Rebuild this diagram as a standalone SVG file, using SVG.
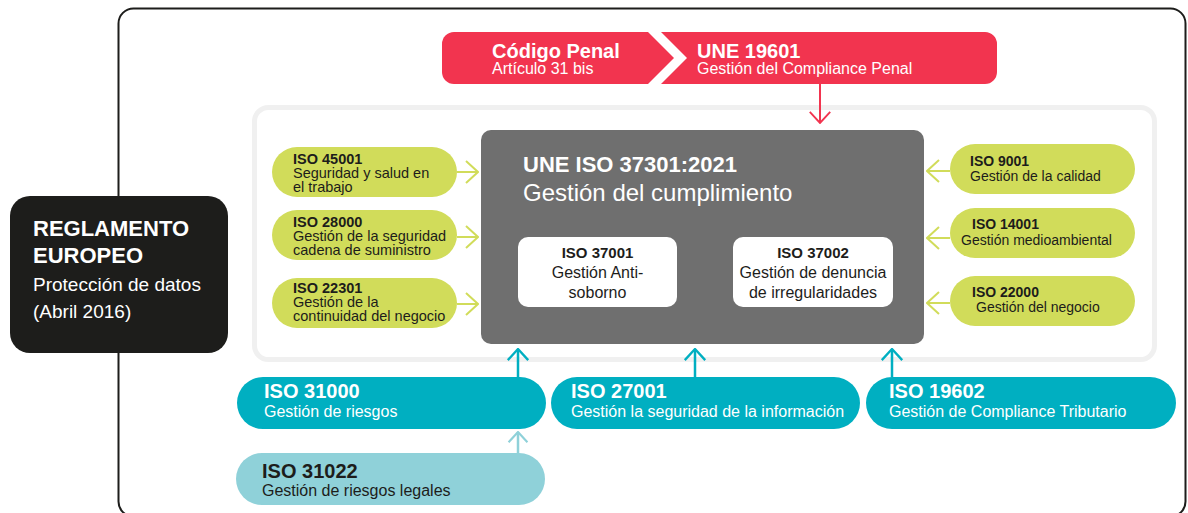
<svg xmlns="http://www.w3.org/2000/svg" width="1188" height="513" viewBox="0 0 1188 513">
<defs>
<style>
text{font-family:"Liberation Sans",Arial,sans-serif;}
.b{font-weight:bold;}
.w{fill:#ffffff;}
.k{fill:#1d1d1b;}
.green{fill:#d1dc5a;}
.teal{fill:#00afc1;}
.lteal{fill:#8fd1d9;}
.red{fill:#f2344f;}
.lg{stroke:#d1dc5a;stroke-width:2;fill:none;}
.lt{stroke:#00afc1;stroke-width:2.5;fill:none;}
.llt{stroke:#8fd1d9;stroke-width:2.5;fill:none;}
.lr{stroke:#f2344f;stroke-width:2;fill:none;}
.gp{font-size:14.5px;}
.gr{font-size:14px;}
</style>
<marker id="ag" viewBox="0 0 14 24" refX="13" refY="12" markerWidth="14" markerHeight="24" markerUnits="userSpaceOnUse" orient="auto"><path d="M1,1 L13,12 L1,23" fill="none" stroke="#d1dc5a" stroke-width="2"/></marker>
<marker id="at" viewBox="0 0 14 24" refX="13" refY="12" markerWidth="13" markerHeight="24" markerUnits="userSpaceOnUse" orient="auto"><path d="M1,1 L13,12 L1,23" fill="none" stroke="#00afc1" stroke-width="2.5"/></marker>
<marker id="alt" viewBox="0 0 14 24" refX="13" refY="12" markerWidth="12" markerHeight="24" markerUnits="userSpaceOnUse" orient="auto"><path d="M1,1 L13,12 L1,23" fill="none" stroke="#8fd1d9" stroke-width="2.5"/></marker>
<marker id="ar" viewBox="0 0 14 24" refX="13" refY="12" markerWidth="13" markerHeight="24" markerUnits="userSpaceOnUse" orient="auto"><path d="M1,1 L13,12 L1,23" fill="none" stroke="#f2344f" stroke-width="2"/></marker>
</defs>
<rect width="1188" height="513" fill="#ffffff"/>
<g id="frame">
<rect x="118.5" y="8.5" width="1067" height="508" rx="15" fill="none" stroke="#1d1d1b" stroke-width="2"/>
</g>
<g id="panel">
<rect x="254.5" y="107.5" width="900" height="252" rx="14" fill="#ffffff" stroke="#f0f0f0" stroke-width="5"/>
</g>
<g id="reglamento">
<rect x="10" y="196" width="218" height="157" rx="20" fill="#1d1d1b"/>
<text class="b w" x="33" y="236" font-size="22">REGLAMENTO</text>
<text class="b w" x="33" y="263" font-size="22">EUROPEO</text>
<text class="w" x="33" y="291" font-size="19">Protección de datos</text>
<text class="w" x="33" y="318" font-size="19">(Abril 2016)</text>
</g>
<g id="codigo-penal">
<path class="red" d="M454,32 H648 L674,58 L648,84 H454 A12,12 0 0 1 442,72 V44 A12,12 0 0 1 454,32 Z"/>
<text class="b w" x="492" y="58" font-size="20">Código Penal</text>
<text class="w" x="492" y="74" font-size="16">Artículo 31 bis</text>
</g>
<g id="une-19601">
<path class="red" d="M661,32 H985 A12,12 0 0 1 997,44 V72 A12,12 0 0 1 985,84 H661 L687,58 Z"/>
<text class="b w" x="697" y="58" font-size="20">UNE 19601</text>
<text class="w" x="697" y="74" font-size="16">Gestión del Compliance Penal</text>
</g>
<g id="une-iso-37301">
<rect x="481" y="130" width="443" height="214" rx="10" fill="#6f6f6f"/>
<text class="b w" x="523" y="172" font-size="22">UNE ISO 37301:2021</text>
<text class="w" x="523" y="201" font-size="24">Gestión del cumplimiento</text>
</g>
<g id="iso-37001">
<rect x="518" y="237" width="159" height="70" rx="10" fill="#ffffff"/>
<text class="b k" x="597.5" y="258" font-size="15" text-anchor="middle">ISO 37001</text>
<text class="k" x="597.5" y="278" font-size="16" text-anchor="middle">Gestión Anti-</text>
<text class="k" x="597.5" y="298" font-size="16" text-anchor="middle">soborno</text>
</g>
<g id="iso-37002">
<rect x="733" y="237" width="160" height="70" rx="10" fill="#ffffff"/>
<text class="b k" x="813" y="258" font-size="15" text-anchor="middle">ISO 37002</text>
<text class="k" x="813" y="278" font-size="16" text-anchor="middle">Gestión de denuncia</text>
<text class="k" x="813" y="298" font-size="16" text-anchor="middle">de irregularidades</text>
</g>
<g id="iso-45001">
<rect class="green" x="272" y="147" width="185" height="50" rx="25"/>
<text class="b k gp" x="293" y="164">ISO 45001</text>
<text class="k gp" x="293" y="178">Seguridad y salud en</text>
<text class="k gp" x="293" y="192">el trabajo</text>
</g>
<g id="iso-28000">
<rect class="green" x="272" y="210" width="185" height="50" rx="25"/>
<text class="b k gp" x="293" y="227">ISO 28000</text>
<text class="k gp" x="293" y="241">Gestión de la seguridad</text>
<text class="k gp" x="293" y="255">cadena de suministro</text>
</g>
<g id="iso-22301">
<rect class="green" x="272" y="278" width="185" height="50" rx="25"/>
<text class="b k gp" x="293" y="293">ISO 22301</text>
<text class="k gp" x="293" y="307">Gestión de la</text>
<text class="k gp" x="293" y="321">continuidad del negocio</text>
</g>
<g id="iso-9001">
<rect class="green" x="950" y="144" width="185" height="50" rx="25"/>
<text class="b k gr" x="970" y="166">ISO 9001</text>
<text class="k gr" x="970" y="181">Gestión de la calidad</text>
</g>
<g id="iso-14001">
<rect class="green" x="950" y="208" width="185" height="50" rx="25"/>
<text class="b k gr" x="972" y="229">ISO 14001</text>
<text class="k gr" x="961" y="245">Gestión medioambiental</text>
</g>
<g id="iso-22000">
<rect class="green" x="950" y="276" width="185" height="50" rx="25"/>
<text class="b k gr" x="972" y="297">ISO 22000</text>
<text class="k gr" x="976" y="312">Gestión del negocio</text>
</g>
<g id="iso-31000">
<rect class="teal" x="237" y="377" width="309" height="52" rx="26"/>
<text class="b w" x="264" y="398" font-size="20">ISO 31000</text>
<text class="w" x="264" y="417" font-size="16">Gestión de riesgos</text>
</g>
<g id="iso-27001">
<rect class="teal" x="551" y="377" width="309" height="52" rx="26"/>
<text class="b w" x="571" y="398" font-size="20">ISO 27001</text>
<text class="w" x="571" y="417" font-size="16">Gestión la seguridad de la información</text>
</g>
<g id="iso-19602">
<rect class="teal" x="866" y="377" width="310" height="52" rx="26"/>
<text class="b w" x="889" y="398" font-size="20">ISO 19602</text>
<text class="w" x="889" y="417" font-size="16">Gestión de Compliance Tributario</text>
</g>
<g id="iso-31022">
<rect class="lteal" x="236" y="453" width="309" height="52" rx="26"/>
<text class="b k" x="262" y="478" font-size="20">ISO 31022</text>
<text class="k" x="262" y="496" font-size="16">Gestión de riesgos legales</text>
</g>
<g id="connectors">
<line class="lr" x1="820" y1="84" x2="820" y2="123" marker-end="url(#ar)"/>
<line class="lg" x1="457" y1="172" x2="478" y2="172" marker-end="url(#ag)"/>
<line class="lg" x1="457" y1="237" x2="478" y2="237" marker-end="url(#ag)"/>
<line class="lg" x1="457" y1="304" x2="478" y2="304" marker-end="url(#ag)"/>
<line class="lg" x1="950" y1="171" x2="927" y2="171" marker-end="url(#ag)"/>
<line class="lg" x1="950" y1="238" x2="927" y2="238" marker-end="url(#ag)"/>
<line class="lg" x1="950" y1="303" x2="927" y2="303" marker-end="url(#ag)"/>
<line class="lt" x1="518" y1="377" x2="518" y2="349" marker-end="url(#at)"/>
<line class="lt" x1="695" y1="377" x2="695" y2="349" marker-end="url(#at)"/>
<line class="lt" x1="892" y1="377" x2="892" y2="349" marker-end="url(#at)"/>
<line class="llt" x1="518" y1="453" x2="518" y2="432" marker-end="url(#alt)"/>
</g>
</svg>
